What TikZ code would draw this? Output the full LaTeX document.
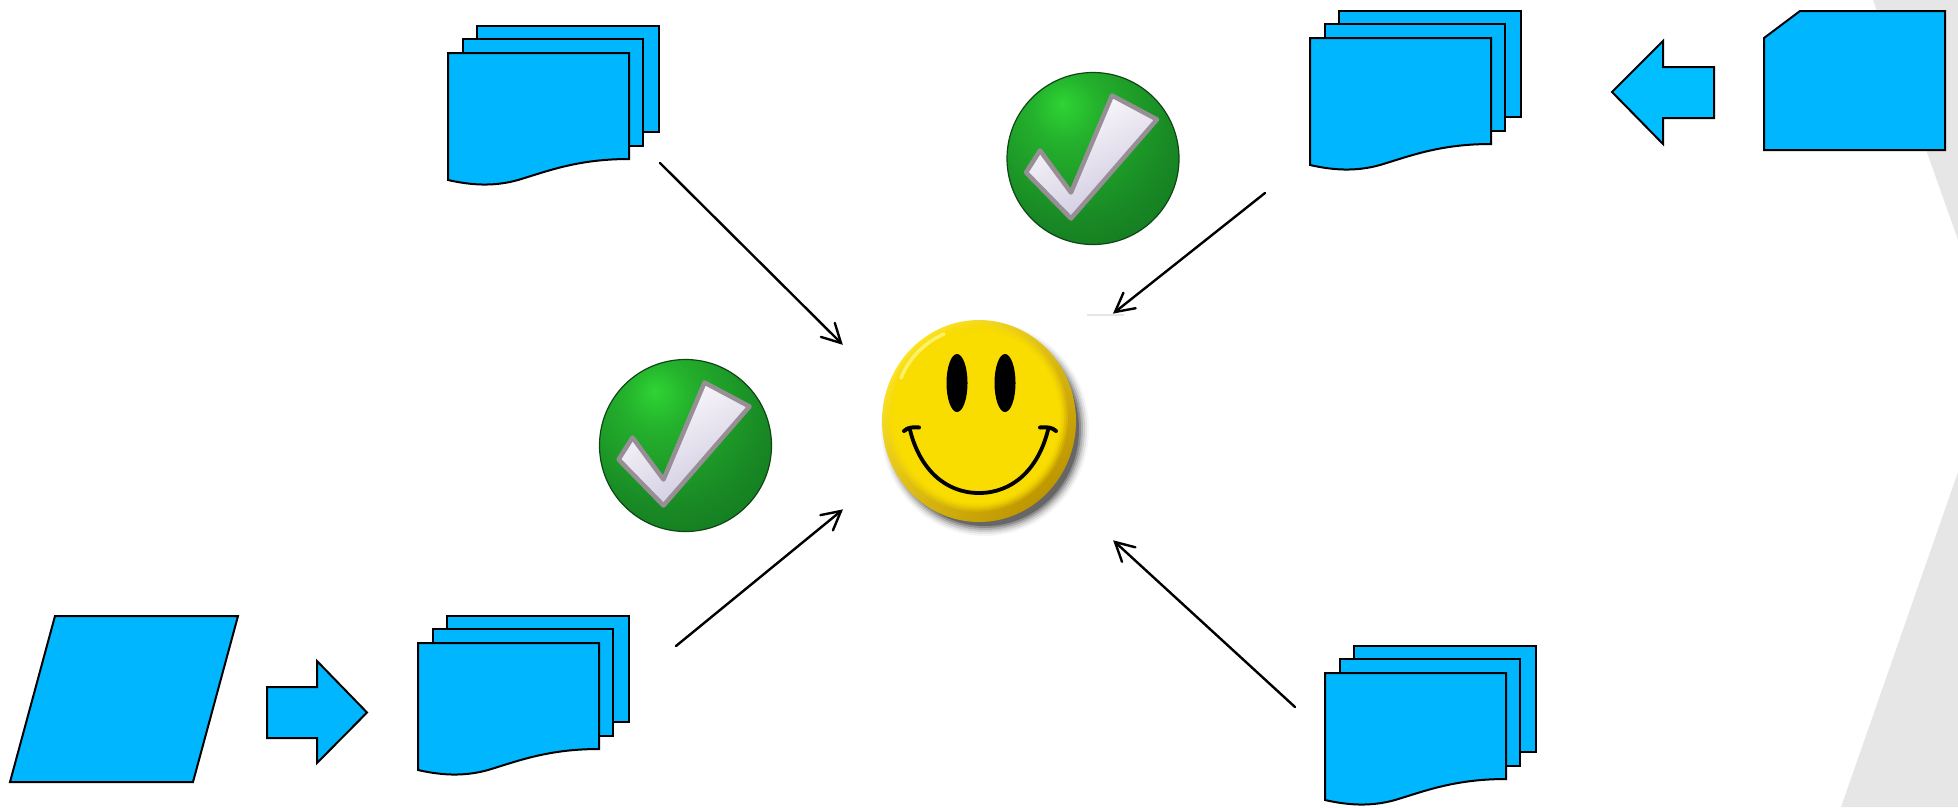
\documentclass[tikz,border=0pt]{standalone}
\usetikzlibrary{calc}
\definecolor{docblue}{RGB}{0,183,255}
\definecolor{arrowblue}{RGB}{0,190,255}
\definecolor{bgband}{RGB}{230,230,230}
\definecolor{smileface}{RGB}{249,220,0}
\definecolor{smilelight}{RGB}{252,228,40}
\definecolor{smiledark}{RGB}{190,150,0}
\definecolor{gA}{RGB}{46,212,52}
\definecolor{gB}{RGB}{36,176,44}
\definecolor{gC}{RGB}{24,136,36}
\definecolor{gD}{RGB}{16,108,28}
\definecolor{gE}{RGB}{10,80,20}
\definecolor{ballrim}{RGB}{14,70,22}
\definecolor{checkrim}{RGB}{152,142,150}
\definecolor{checkdark}{RGB}{205,198,222}
\pgfdeclareradialshading{greenball}{\pgfpoint{-9bp}{16bp}}{%
 color(0bp)=(gA);
 color(10bp)=(gB);
 color(30bp)=(gC);
 color(52bp)=(gD);
 color(75bp)=(gE);
 color(100bp)=(gE)}
\newcommand{\barbtip}[2]{%
  \draw[barbline] ($(#1)!21pt!28:(#2)$) -- (#1) -- ($(#1)!21pt!-28:(#2)$);}
\tikzset{
  block/.style={draw=black,fill=docblue,line width=2pt,line join=miter},
  link/.style={draw=black,line width=2.4pt,line cap=round},
  barbline/.style={draw=black,line width=2.4pt,line cap=round,line join=miter},
  docstack/.pic={
    \path[block] (29,-27) rectangle (211,79);
    \path[block] (15,-14) rectangle (195,93);
    \path[block] (0,0) -- (181,0) -- (181,106)
      .. controls (130,106) and (100,118) .. (70,127)
      .. controls (45,134) and (22,132) .. (0,127) -- cycle;
  },
  checkmark/.pic={
    \shade[shading=greenball,draw=ballrim,line width=1.2pt] (0,0) circle (86pt);
    \shade[draw=checkrim,line width=4.5pt,line join=round,
      left color=white,right color=checkdark,shading angle=30]
      (-67,14) -- (-53,-8) -- (-22,34) -- (19,-63) -- (64,-39) -- (-22,60) -- cycle;
  }
}
\begin{document}
\begin{tikzpicture}[x=1pt,y=-1pt]
\useasboundingbox (0,0) rectangle (1958,807);
% background bands
\fill[bgband] (1873,0) -- (1958,0) -- (1958,240) -- cycle;
\fill[bgband] (1841,807) -- (1958,472) -- (1958,807) -- cycle;
\draw[bgband,line width=1.5pt] (1087,315) -- (1124,315);

% stacks
\pic at (448,53) {docstack};
\pic at (1310,38) {docstack};
\pic at (418,643) {docstack};
\pic at (1325,673) {docstack};

% input shapes
\path[block] (55,616) -- (238,616) -- (193,782) -- (10,782) -- cycle;
\path[block] (267,687) -- (317,687) -- (317,661) -- (367,712.5) -- (317,763) -- (317,738) -- (267,738) -- cycle;
\path[block] (1764,38) -- (1800,11) -- (1945,11) -- (1945,150) -- (1764,150) -- cycle;
\path[block,fill=arrowblue] (1612,92) -- (1663,41) -- (1663,67) -- (1714,67) -- (1714,118) -- (1663,118) -- (1663,144) -- cycle;

% checks
\pic at (1093,158.5) {checkmark};
\pic at (685.5,445.5) {checkmark};

% smiley
\foreach \d/\op in {11/0.04,9/0.07,7/0.1,5/0.14,3/0.2,1/0.28}{
  \fill[black,opacity=\op] (985,429) ellipse [x radius=93pt+\d pt, y radius=96pt+\d pt];
}
\shade[left color=smilelight,right color=smiledark,shading angle=45]
  (979,421) ellipse [x radius=97pt, y radius=101pt];
\foreach \d/\op in {91/0.25,89/0.35,87/0.5,85/0.7,83/1}{
  \fill[smileface,opacity=\op] (977,417) ellipse [x radius=\d pt, y radius=\d pt*1.04];
}
\draw[yellow!45!white,line width=3.5pt,line cap=round,opacity=0.75]
  (901,378) .. controls (909,358) and (925,342) .. (944,334);
\fill[black] (957,383) ellipse [x radius=10.5pt, y radius=29pt];
\fill[black] (1005,383) ellipse [x radius=10.5pt, y radius=29pt];
\draw[black,line width=3.8pt,line cap=round]
  (910,430) .. controls (920,470) and (946,493) .. (979,493)
  .. controls (1012,493) and (1038,470) .. (1048,430);
\draw[black,line width=4pt,line cap=round]
  (904,431) .. controls (908,427) and (914,427) .. (919,427.5);
\draw[black,line width=4pt,line cap=round]
  (1040,427.5) .. controls (1046,427) and (1052,427) .. (1056,431);

% connector ends
\coordinate (fromTL) at (660,163);
\coordinate (toNW) at (841,343);
\coordinate (fromTR) at (1265,193);
\coordinate (toNE) at (1115,312);
\coordinate (fromBL) at (676,646);
\coordinate (toSW) at (841,511);
\coordinate (fromBR) at (1295,707);
\coordinate (toSE) at (1115,542);
\draw[link] (fromTL) -- (toNW);
\barbtip{toNW}{fromTL}
\draw[link] (fromTR) -- (toNE);
\barbtip{toNE}{fromTR}
\draw[link] (fromBL) -- (toSW);
\barbtip{toSW}{fromBL}
\draw[link] (fromBR) -- (toSE);
\barbtip{toSE}{fromBR}
\end{tikzpicture}
\end{document}
